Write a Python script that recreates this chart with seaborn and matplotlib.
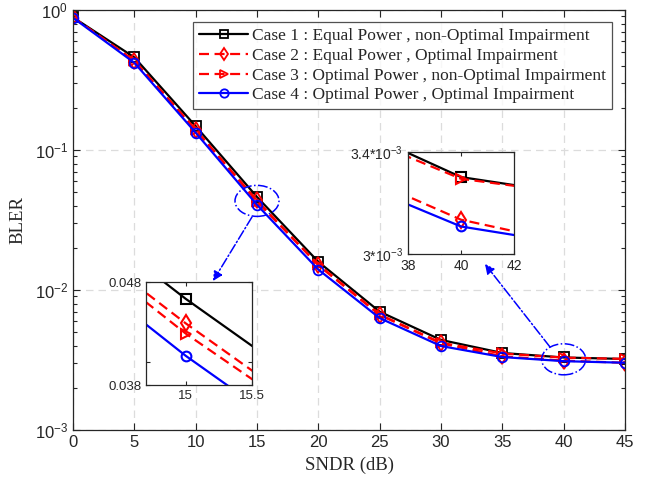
import matplotlib
matplotlib.use("Agg")
import matplotlib.pyplot as plt
import numpy as np
import pandas as pd
import seaborn as sns
from matplotlib.patches import Ellipse
from matplotlib.ticker import (FixedLocator, NullFormatter, NullLocator,
                               FixedFormatter, LogLocator)

# ---------------- data ----------------
sndr = [0, 5, 10, 15, 20, 25, 30, 35, 40, 45]
case1 = [0.887, 0.459, 0.148, 0.0462, 0.0159, 0.0070, 0.0044, 0.00355, 0.003297, 0.003217]
case2 = [0.885, 0.432, 0.139, 0.0437, 0.0150, 0.00663, 0.00416, 0.00336, 0.003129, 0.00302]
case3 = [0.885, 0.435, 0.140, 0.0427, 0.0152, 0.00668, 0.00420, 0.00352, 0.00329, 0.00322]
case4 = [0.880, 0.420, 0.133, 0.0406, 0.0140, 0.0063, 0.00398, 0.00332, 0.003103, 0.003023]
labels = [
    "Case 1 : Equal Power , non-Optimal Impairment",
    "Case 2 : Equal Power , Optimal Impairment",
    "Case 3 : Optimal Power , non-Optimal Impairment",
    "Case 4 : Optimal Power , Optimal Impairment",
]
x_ticks = [0, 5, 10, 15, 20, 25, 30, 35, 40, 45]
y_ticks = [1e-3, 1e-2, 1e-1, 1e0]
inset1_xticks = [15, 15.5]
inset1_yticks = [0.038, 0.048]
inset1_yticklabels = ["0.038", "0.048"]
inset2_xticks = [38, 40, 42]
inset2_yticks = [3.0e-3, 3.4e-3]
inset2_yticklabels = [r"3*10$^{-3}$", r"3.4*10$^{-3}$"]

df = pd.DataFrame({
    "SNDR": sndr * 4,
    "BLER": case1 + case2 + case3 + case4,
    "case": [lab for lab in labels for _ in sndr],
})

# ---------------- style ----------------
sns.set_theme(style="white")
plt.rcParams["font.family"] = ["Liberation Sans", "DejaVu Sans"]
plt.rcParams["mathtext.fontset"] = "custom"
plt.rcParams["mathtext.rm"] = "Liberation Sans"
plt.rcParams["mathtext.it"] = "Liberation Sans:italic"
plt.rcParams["mathtext.bf"] = "Liberation Sans:bold"

dash = (0, (4.5, 2.5))
styles = [
    dict(color="black", marker="s", linestyle="-", markersize=6.5),
    dict(color="red", marker="d", linestyle=dash, markersize=8.5),
    dict(color="red", marker=">", linestyle=dash, markersize=7.5),
    dict(color="blue", marker="o", linestyle="-", markersize=7),
]
axis_col = "#262626"

fig = plt.figure(figsize=(6.45, 4.86), dpi=100)
fig.patch.set_facecolor("white")
ax = fig.add_axes([0.1132, 0.1152, 0.8558, 0.8642])


def draw(a, legend_labels=True, mew=1.3):
    for lab, st in zip(labels, styles):
        sub = df[df["case"] == lab]
        sns.lineplot(data=sub, x="SNDR", y="BLER", ax=a,
                     label=lab if legend_labels else None,
                     color=st["color"], marker=st["marker"],
                     linestyle=st["linestyle"], markersize=st["markersize"],
                     markerfacecolor="none", markeredgecolor=st["color"],
                     markeredgewidth=mew, linewidth=1.6, legend=False,
                     estimator=None, sort=False)


draw(ax)
ax.set_yscale("log")
ax.set_xlim(0, 45)
ax.set_ylim(1e-3, 1)
ax.set_xticks(x_ticks)
ax.yaxis.set_major_locator(FixedLocator(y_ticks))
ax.yaxis.set_minor_locator(LogLocator(base=10, subs=np.arange(2, 10)))
ax.yaxis.set_minor_formatter(NullFormatter())
ax.grid(True, which="major", linestyle=(0, (6, 4)), color="#dcdcdc", linewidth=0.9)
ax.set_axisbelow(True)
ax.tick_params(which="both", direction="in", top=True, right=True,
               bottom=True, left=True, colors=axis_col, labelsize=12)
ax.tick_params(which="major", length=5, width=0.8)
ax.tick_params(which="minor", length=3, width=0.8)
for s in ax.spines.values():
    s.set_color(axis_col)
    s.set_linewidth(0.9)
ax.set_xlabel("SNDR (dB)", family="Liberation Serif", fontsize=13.5, color=axis_col, labelpad=5)
ax.set_ylabel("BLER", family="Liberation Serif", fontsize=13.5, color=axis_col, labelpad=6)

handles, labs = ax.get_legend_handles_labels()
leg = ax.legend(handles, labs, loc="upper right", bbox_to_anchor=(0.977, 0.971),
                borderaxespad=0, frameon=True, fancybox=False, edgecolor=axis_col,
                prop={"family": "Liberation Serif", "size": 12.5},
                handlelength=2.8, handletextpad=0.25, labelspacing=0.2,
                borderpad=0.35)
leg.get_frame().set_linewidth(0.9)
for h in leg.legend_handles:
    h.set_markersize(6)

# ---------------- ellipses & arrows ----------------
def to_axes(a, x, y):
    disp = a.transData.transform((x, y))
    return a.transAxes.inverted().transform(disp)

c1 = to_axes(ax, 15, np.sqrt(case1[3] * case4[3]))
c2 = to_axes(ax, 40, np.sqrt(case1[8] * case4[8]))
for c in (c1, c2):
    e = Ellipse(c, width=44 / 552, height=31 / 420, transform=ax.transAxes,
                fill=False, edgecolor="blue", linestyle="-.", linewidth=1.1, zorder=5)
    ax.add_patch(e)

arrow_kw = dict(arrowstyle="-|>", color="blue", linestyle="-.", linewidth=1.1,
                mutation_scale=14, shrinkA=0, shrinkB=0)
ax.annotate("", xy=(213 / 645, 1 - 281 / 486), xytext=(252 / 645, 1 - 217 / 486),
            xycoords="figure fraction", textcoords="figure fraction",
            arrowprops=arrow_kw, zorder=6)
ax.annotate("", xy=(485 / 645, 1 - 264 / 486), xytext=(550 / 645, 1 - 347 / 486),
            xycoords="figure fraction", textcoords="figure fraction",
            arrowprops=arrow_kw, zorder=6)

# ---------------- insets ----------------
def style_inset(a, labelsize):
    a.set_facecolor("white")
    a.grid(False)
    a.set_xlabel("")
    a.set_ylabel("")
    a.tick_params(which="both", direction="in", top=True, right=True,
                  bottom=True, left=True, colors=axis_col,
                  labelsize=labelsize, length=3, width=0.8)
    for s in a.spines.values():
        s.set_color(axis_col)
        s.set_linewidth(0.9)

ax1 = fig.add_axes([146 / 645, 1 - 385 / 486, 106 / 645, 103 / 486])
draw(ax1, legend_labels=False, mew=1.5)
ax1.set_yscale("log")
ax1.set_xlim(14.7, 15.5)
ax1.set_ylim(0.038, 0.048)
ax1.set_xticks(inset1_xticks)
ax1.set_xticklabels(["15", "15.5"])
ax1.yaxis.set_major_locator(FixedLocator(inset1_yticks))
ax1.yaxis.set_major_formatter(FixedFormatter(inset1_yticklabels))
ax1.yaxis.set_minor_locator(FixedLocator([0.04]))
ax1.yaxis.set_minor_formatter(NullFormatter())
style_inset(ax1, 9.5)

ax2 = fig.add_axes([408 / 645, 1 - 254 / 486, 106 / 645, 102 / 486])
draw(ax2, legend_labels=False, mew=1.5)
ax2.set_yscale("log")
ax2.set_xlim(38, 42)
ax2.set_ylim(3.0e-3, 3.4e-3)
ax2.set_xticks(inset2_xticks)
ax2.set_xticklabels([str(v) for v in inset2_xticks])
ax2.yaxis.set_major_locator(FixedLocator(inset2_yticks))
ax2.yaxis.set_major_formatter(FixedFormatter(inset2_yticklabels))
ax2.yaxis.set_minor_locator(NullLocator())
ax2.yaxis.set_minor_formatter(NullFormatter())
style_inset(ax2, 10)

fig.savefig("out.png", dpi=100, facecolor="white")
